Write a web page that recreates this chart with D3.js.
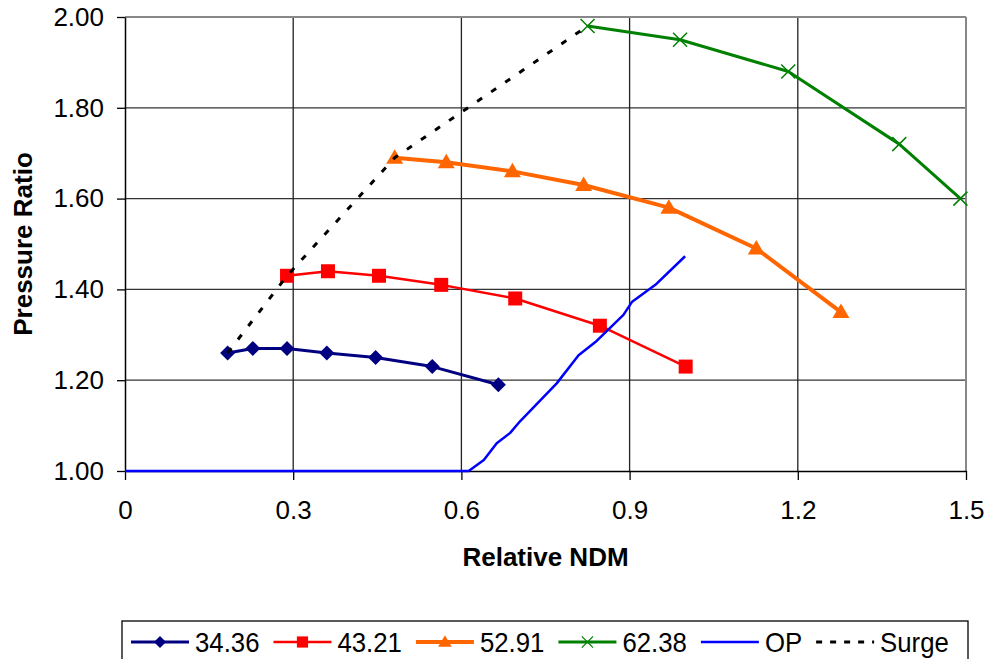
<!DOCTYPE html>
<html>
<head>
<meta charset="utf-8">
<script src="https://cdn.jsdelivr.net/npm/d3@7"></script>
<style>
  html, body { margin: 0; padding: 0; background: #fff; }
  svg { display: block; font-family: "Liberation Sans", Arial, sans-serif; }
</style>
</head>
<body>
<svg id="chart" width="989" height="659"></svg>
<script>
// ---- data ----
const xTicks = [0, 0.3, 0.6, 0.9, 1.2, 1.5];
const xTickLabels = ["0", "0.3", "0.6", "0.9", "1.2", "1.5"];
const yTicks = [1.0, 1.2, 1.4, 1.6, 1.8, 2.0];
const yTickLabels = ["1.00", "1.20", "1.40", "1.60", "1.80", "2.00"];

const s1Name = "34.36";
const s1X = [0.183, 0.228, 0.289, 0.360, 0.447, 0.548, 0.666];
const s1Y = [1.26, 1.27, 1.27, 1.26, 1.25, 1.23, 1.19];

const s2Name = "43.21";
const s2X = [0.289, 0.362, 0.453, 0.564, 0.696, 0.847, 1.000];
const s2Y = [1.43, 1.44, 1.43, 1.41, 1.38, 1.32, 1.23];

const s3Name = "52.91";
const s3X = [0.481, 0.573, 0.691, 0.818, 0.970, 1.126, 1.277];
const s3Y = [1.69, 1.68, 1.66, 1.63, 1.58, 1.49, 1.35];

const s4Name = "62.38";
const s4X = [0.825, 0.990, 1.183, 1.381, 1.490];
const s4Y = [1.98, 1.95, 1.88, 1.72, 1.60];

const opName = "OP";
const opX = [0, 0.613, 0.640, 0.663, 0.687, 0.705, 0.770, 0.809, 0.839, 0.889, 0.904, 0.946, 0.999];
const opY = [1.00, 1.00, 1.024, 1.061, 1.084, 1.11, 1.193, 1.255, 1.284, 1.344, 1.372, 1.410, 1.473];

const surgeName = "Surge";
const surgeX = [0.183, 0.289, 0.481, 0.825];
const surgeY = [1.26, 1.43, 1.69, 1.98];

const xTitle = "Relative NDM";
const yTitle = "Pressure Ratio";

// ---- layout ----
const svg = d3.select("#chart");
const pLeft = 125, pRight = 966, pTop = 17, pBottom = 471;
const x = d3.scaleLinear().domain([0, 1.5]).range([pLeft, pRight]);
const y = d3.scaleLinear().domain([1, 2]).range([pBottom, pTop]);
const FONT = 26;

const zip = (xs, ys) => xs.map((v, i) => [v, ys[i]]);

// gridlines
const grid = svg.append("g");
grid.selectAll("line.h").data(yTicks.filter(t => t > 1 && t < 2)).enter().append("line")
  .attr("x1", pLeft).attr("x2", pRight).attr("y1", d => y(d)).attr("y2", d => y(d))
  .attr("stroke", "#333").attr("stroke-width", 1.3);
grid.selectAll("line.v").data(xTicks.filter(t => t > 0 && t < 1.5)).enter().append("line")
  .attr("y1", pTop).attr("y2", pBottom).attr("x1", d => x(d)).attr("x2", d => x(d))
  .attr("stroke", "#222").attr("stroke-width", 1.3);
// plot border top/right (grey)
grid.append("line").attr("x1", pLeft).attr("x2", pRight).attr("y1", y(2)).attr("y2", y(2))
  .attr("stroke", "#888").attr("stroke-width", 2);
grid.append("line").attr("x1", x(1.5)).attr("x2", x(1.5)).attr("y1", pTop).attr("y2", pBottom)
  .attr("stroke", "#888").attr("stroke-width", 2);

// axes
const xAxis = d3.axisBottom(x).tickValues(xTicks).tickFormat((d, i) => xTickLabels[i])
  .tickSizeInner(9).tickSizeOuter(0).tickPadding(21);
const yAxis = d3.axisLeft(y).tickValues(yTicks).tickFormat((d, i) => yTickLabels[i])
  .tickSizeInner(8).tickSizeOuter(0).tickPadding(13);

const gx = svg.append("g").attr("transform", `translate(0,${pBottom})`).call(xAxis);
const gy = svg.append("g").attr("transform", `translate(${pLeft},0)`).call(yAxis);
[gx, gy].forEach(g => {
  g.select(".domain").attr("stroke", "#000").attr("stroke-width", 1.5);
  g.selectAll(".tick line").attr("stroke", "#000").attr("stroke-width", 1.3);
  g.selectAll(".tick text").attr("font-size", FONT).attr("fill", "#000")
    .attr("font-family", '"Liberation Sans", Arial, sans-serif');
});

// axis titles
svg.append("text").attr("x", (pLeft + pRight) / 2).attr("y", 566)
  .attr("text-anchor", "middle").attr("font-size", 26).attr("font-weight", "bold")
  .text(xTitle);
svg.append("text").attr("transform", `translate(32,${(pTop + pBottom) / 2}) rotate(-90)`)
  .attr("text-anchor", "middle").attr("font-size", 26).attr("font-weight", "bold")
  .text(yTitle);

// series
const line = d3.line().x(d => x(d[0])).y(d => y(d[1]));
const plot = svg.append("g");

const markers = {
  diamond: "M0,-7.5L7.5,0L0,7.5L-7.5,0Z",
  square: "M-7,-7H7V7H-7Z",
  triangle: "M0,-8.5L8.5,6L-8.5,6Z",
  cross: "M-7,-7L7,7M7,-7L-7,7"
};

const series = [
  { name: s1Name, data: zip(s1X, s1Y), color: "#000080", width: 3, marker: "diamond" },
  { name: s2Name, data: zip(s2X, s2Y), color: "#ff0000", width: 2.5, marker: "square" },
  { name: s3Name, data: zip(s3X, s3Y), color: "#ff6600", width: 4, marker: "triangle" },
  { name: s4Name, data: zip(s4X, s4Y), color: "#008000", width: 3, marker: "cross" },
  { name: opName, data: zip(opX, opY), color: "#0000ff", width: 2.5, marker: null },
  { name: surgeName, data: zip(surgeX, surgeY), color: "#000", width: 3, marker: null, dash: "6,11" }
];

series.forEach(s => {
  plot.append("path").datum(s.data).attr("d", line)
    .attr("fill", "none").attr("stroke", s.color).attr("stroke-width", s.width)
    .attr("stroke-linejoin", "round")
    .attr("stroke-dasharray", s.dash || null);
  if (s.marker) {
    plot.selectAll(null).data(s.data).enter().append("path")
      .attr("d", markers[s.marker])
      .attr("transform", d => `translate(${x(d[0])},${y(d[1])})`)
      .attr("fill", s.marker === "cross" ? "none" : s.color)
      .attr("stroke", s.color)
      .attr("stroke-width", s.marker === "cross" ? 1.5 : 0);
  }
});

// legend
const leg = svg.append("g");
leg.append("rect").attr("x", 122).attr("y", 621).attr("width", 846).attr("height", 60)
  .attr("fill", "#fff").attr("stroke", "#000").attr("stroke-width", 1.3);
let cx = 131;
const ly = 642;
series.forEach(s => {
  const lx1 = cx, lx2 = cx + 58;
  leg.append("line").attr("x1", lx1).attr("x2", lx2).attr("y1", ly).attr("y2", ly)
    .attr("stroke", s.color).attr("stroke-width", s.dash ? 3 : s.width)
    .attr("stroke-dasharray", s.dash ? "6,8" : null);
  if (s.marker) {
    const sc = s.marker === "cross" ? 0.8 : 0.8;
    leg.append("path").attr("d", markers[s.marker])
      .attr("transform", `translate(${(lx1 + lx2) / 2},${ly}) scale(${sc})`)
      .attr("fill", s.marker === "cross" ? "none" : s.color)
      .attr("stroke", s.color).attr("stroke-width", s.marker === "cross" ? 1.6 : 0);
  }
  const t = leg.append("text").attr("x", lx2 + 6).attr("y", 652)
    .attr("font-size", 28).attr("fill", "#000").text(s.name);
  const w = t.node().getComputedTextLength() * 0.92;
  t.attr("textLength", w).attr("lengthAdjust", "spacingAndGlyphs");
  cx = lx2 + 6 + w + 14;
});
</script>
</body>
</html>
